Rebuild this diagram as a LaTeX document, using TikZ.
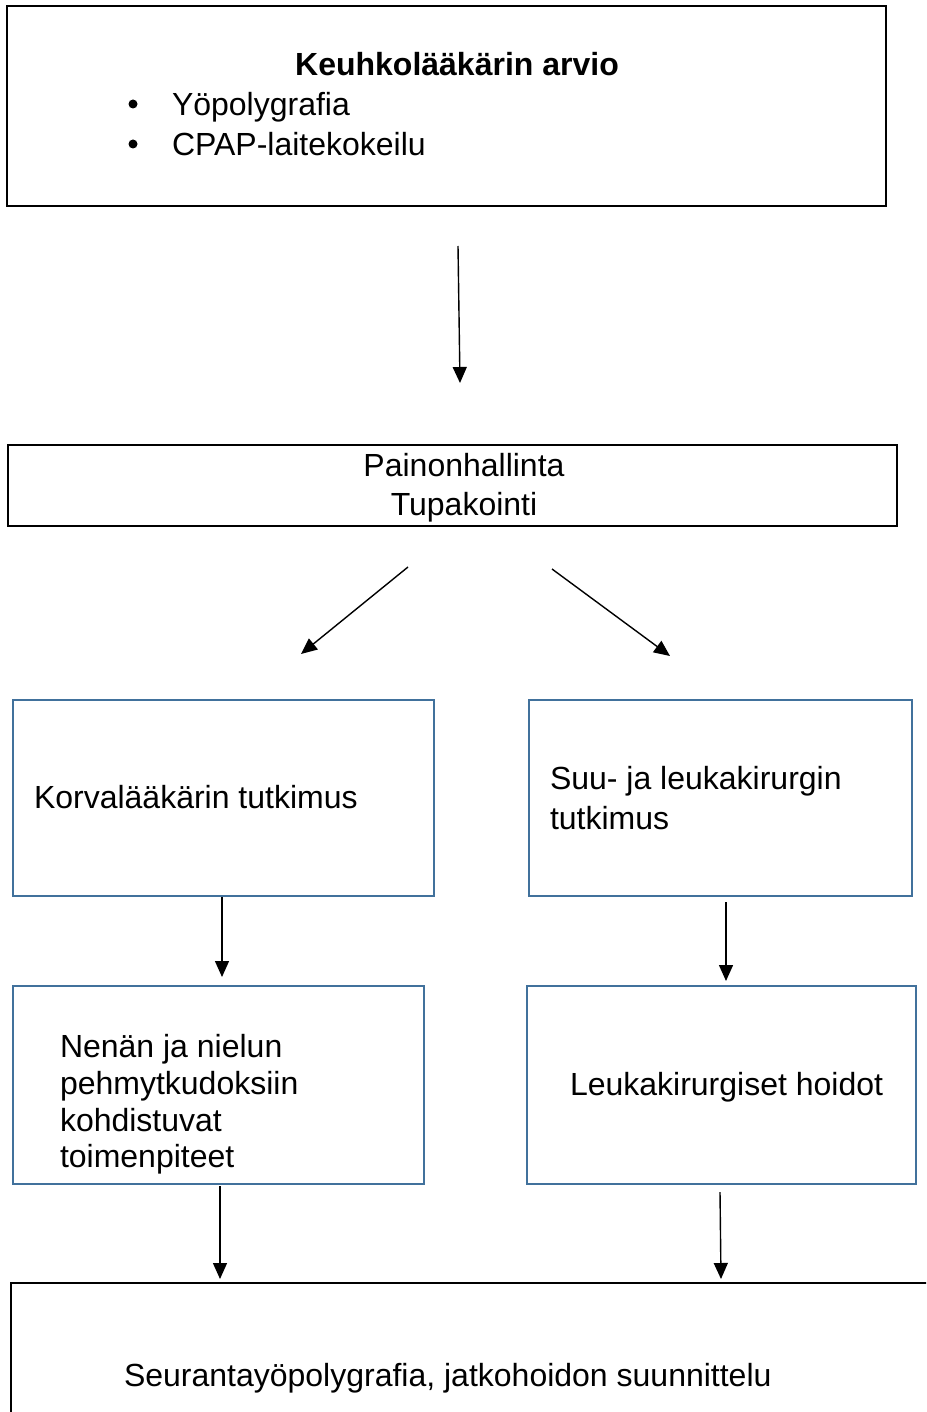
\documentclass[tikz,border=0pt]{standalone}
\usepackage{fontspec}
\setmainfont{Liberation Sans}
\usetikzlibrary{arrows.meta}
\definecolor{boxblue}{HTML}{41719C}
\begin{document}
\begin{tikzpicture}[x=1pt,y=-1pt,
  box/.style={draw, rectangle, inner sep=0pt, outer sep=0pt, anchor=north west},
  blackbox/.style={box, draw=black, line width=2.8pt},
  thinbox/.style={box, draw=black, line width=2.2pt},
  bluebox/.style={box, draw=boxblue, line width=2.7pt},
  txt/.style={inner sep=0pt, outer sep=0pt, font=\fontsize{32}{36.8}\selectfont},
  arr/.style={-{Triangle[length=16pt,width=14pt]}, line width=1.4pt}]
\useasboundingbox (0,0) rectangle (926,1412);
\clip (0,0) rectangle (926,1412);

% boxes
\node[blackbox, minimum width=879pt, minimum height=200pt] (b1) at (7,6) {};
\node[thinbox, minimum width=889pt, minimum height=81pt] (b2) at (8,445) {};
\node[bluebox, minimum width=421pt, minimum height=196pt] (b3l) at (13,700) {};
\node[bluebox, minimum width=383pt, minimum height=196pt] (b3r) at (529,700) {};
\node[bluebox, minimum width=411pt, minimum height=198pt] (b4l) at (13,986) {};
\node[bluebox, minimum width=389pt, minimum height=198pt] (b4r) at (527,986) {};
\node[blackbox, minimum width=940pt, minimum height=170pt] (b5) at (11,1283) {};

% texts
\node[txt, anchor=base] (t1) at (457,75.5) {\bfseries Keuhkolääkärin arvio};
\fill (133,104) circle (4.5);
\fill (133,144) circle (4.5);
\node[txt, anchor=base west] (t1a) at (172,115.5) {Yöpolygrafia};
\node[txt, anchor=base west] (t1b) at (172,155.5) {CPAP-laitekokeilu};
\node[txt, anchor=base] (t2a) at (464,476.5) {Painonhallinta};
\node[txt, anchor=base] (t2b) at (464,515.5) {Tupakointi};
\node[txt, anchor=base west] (t3l) at (34,808.5) {Korvalääkärin tutkimus};
\node[txt, anchor=base west] (t3ra) at (550,789.5) {Suu- ja leukakirurgin};
\node[txt, anchor=base west] (t3rb) at (550,829.5) {tutkimus};
\node[txt, anchor=base west] (t4la) at (60,1057.5) {Nenän ja nielun};
\node[txt, anchor=base west] (t4lb) at (60,1094.3) {pehmytkudoksiin};
\node[txt, anchor=base west] (t4lc) at (60,1131.1) {kohdistuvat};
\node[txt, anchor=base west] (t4ld) at (60,1167.9) {toimenpiteet};
\node[txt, anchor=base west] (t4r) at (570,1095.5) {Leukakirurgiset hoidot};
\node[txt, anchor=base west] (t5) at (124,1386.5) {Seurantayöpolygrafia, jatkohoidon suunnittelu};

% connector end points
\coordinate (a1s) at (458,246);
\coordinate (a1e) at (460,383);
\coordinate (a2s) at (408,567);
\coordinate (a2e) at (301,654);
\coordinate (a3s) at (552,569);
\coordinate (a3e) at (670,656);
\coordinate (a4s) at (222,897);
\coordinate (a4e) at (222,977);
\coordinate (a5s) at (726,902);
\coordinate (a5e) at (726,981);
\coordinate (a6s) at (220,1186);
\coordinate (a6e) at (220,1279);
\coordinate (a7s) at (720,1192);
\coordinate (a7e) at (721,1279);

\draw[arr] (a1s) -- (a1e);
\draw[arr] (a2s) -- (a2e);
\draw[arr] (a3s) -- (a3e);
\draw[arr] (a4s) -- (a4e);
\draw[arr] (a5s) -- (a5e);
\draw[arr] (a6s) -- (a6e);
\draw[arr] (a7s) -- (a7e);
\end{tikzpicture}
\end{document}
